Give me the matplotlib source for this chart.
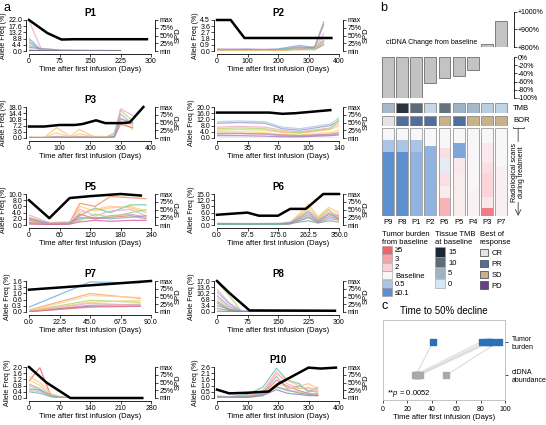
import numpy as np
import matplotlib
matplotlib.use('Agg')
import matplotlib.pyplot as plt
from matplotlib.colors import LinearSegmentedColormap, Normalize
from matplotlib.patches import Patch

plt.rcParams['font.family'] = ['Liberation Sans', 'DejaVu Sans']
plt.rcParams['mathtext.fontset'] = 'custom'
plt.rcParams['mathtext.it'] = 'Liberation Sans:italic'

# ---- panel a: allele frequency per patient (days, %) and SPD (fraction of max)
p1_t = [0, 30, 80, 150, 225]
p1_vaf = [[21.5, 1.5, 0.8, 0.5, 0.3], [9.0, 0.6, 0.2, 0.1, 0.1], [7.5, 0.5, 0.2, 0.1, 0.1],
          [6.0, 0.4, 0.2, 0.1, 0.1], [2.5, 1.8, 0.5, 0.3, 0.3], [4.0, 0.3, 0.1, 0.1, 0.1],
          [1.0, 0.2, 0.1, 0.1, 0.1], [0.3, 0.2, 0.1, 0.1, 0.1]]
p1_spd_t = [0, 45, 80, 110, 290]
p1_spd = [1.0, 0.58, 0.37, 0.38, 0.38]

p2_t = [0, 50, 100, 150, 200, 270, 320, 350]
p2_vaf = [[0.2, 0.3, 0.2, 0.25, 0.2, 0.6, 0.4, 3.8], [0.1, 0.2, 0.15, 0.2, 0.1, 0.4, 0.3, 2.5],
          [0.3, 0.2, 0.3, 0.2, 0.3, 0.8, 0.5, 1.5], [0.1, 0.1, 0.1, 0.1, 0.1, 0.3, 0.6, 4.2],
          [0.05, 0.05, 0.1, 0.05, 0.1, 0.2, 0.2, 0.9], [0.15, 0.1, 0.2, 0.1, 0.2, 0.5, 0.3, 1.2],
          [0.05, 0.1, 0.05, 0.1, 0.05, 0.3, 0.2, 2.0]]
p2_spd_t = [0, 45, 90, 375]
p2_spd = [1.0, 1.0, 0.42, 0.42]

p3_t = [0, 50, 90, 135, 165, 210, 255, 280, 300, 340]
p3_vaf = [[0.3, 0.3, 6.0, 1.0, 5.0, 1.0, 0.8, 2.0, 12.0, 7.0],
          [0.2, 0.2, 3.0, 0.5, 2.5, 0.8, 0.5, 1.5, 10.0, 5.0],
          [0.4, 0.3, 1.0, 0.6, 1.0, 0.7, 0.6, 3.0, 16.0, 10.0],
          [0.5, 0.4, 0.8, 0.5, 0.7, 0.5, 0.4, 1.0, 17.0, 13.0],
          [0.3, 0.2, 0.5, 0.3, 0.5, 0.3, 0.3, 1.0, 14.0, 8.0],
          [0.1, 0.1, 0.3, 0.2, 0.3, 0.2, 0.2, 0.5, 8.0, 6.0],
          [0.2, 0.1, 0.4, 0.2, 0.3, 0.2, 0.2, 0.8, 11.0, 9.0]]
p3_spd_t = [0, 50, 100, 150, 175, 220, 250, 300, 330, 375]
p3_spd = [0.37, 0.37, 0.42, 0.42, 0.45, 0.57, 0.48, 0.48, 0.5, 1.0]

p4_t = [0, 25, 55, 75, 95, 130, 140]
p4_vaf = [[10.5, 11.0, 10.5, 7.0, 6.0, 9.0, 13.0], [9.5, 10.0, 9.5, 6.0, 5.0, 8.0, 11.0],
          [7.0, 7.5, 7.0, 5.0, 4.0, 6.5, 9.5], [5.0, 5.5, 5.0, 3.5, 3.0, 5.5, 8.0],
          [4.0, 4.0, 3.5, 2.0, 2.0, 3.5, 5.0], [6.0, 6.5, 6.0, 4.0, 3.5, 6.0, 12.0],
          [3.0, 3.0, 2.5, 2.0, 1.5, 2.5, 3.5], [2.5, 2.8, 2.5, 1.5, 1.2, 2.0, 2.5],
          [0.3, 0.3, 0.3, 0.3, 0.3, 0.3, 0.3], [1.5, 1.5, 1.2, 0.8, 0.8, 1.5, 2.0]]
p4_spd_t = [0, 35, 60, 75, 90, 130]
p4_spd = [0.82, 0.82, 0.82, 0.78, 0.8, 0.9]

p5_t = [0, 40, 80, 100, 130, 160, 200, 230]
p5_vaf = [[1.5, 0.5, 0.8, 7.0, 6.0, 9.2, 8.8, 8.5], [1.0, 0.3, 0.5, 6.0, 4.5, 5.5, 6.0, 4.5],
          [2.0, 0.5, 0.5, 3.0, 5.5, 4.0, 6.5, 6.5], [3.2, 0.8, 1.0, 5.0, 3.0, 4.5, 5.0, 3.0],
          [2.5, 0.6, 0.7, 4.0, 5.0, 6.0, 5.5, 4.0], [1.5, 0.4, 0.6, 2.5, 2.0, 3.0, 3.5, 2.5],
          [0.8, 0.2, 0.4, 3.5, 2.0, 2.5, 3.0, 2.0], [2.2, 0.5, 0.6, 2.0, 2.5, 2.0, 2.5, 3.0],
          [0.5, 0.3, 0.4, 1.5, 3.5, 2.5, 4.0, 5.0], [0.3, 0.2, 0.3, 1.0, 1.5, 1.2, 1.5, 1.5]]
p5_spd_t = [0, 40, 80, 120, 180, 220]
p5_spd = [0.8, 0.22, 0.87, 0.93, 1.0, 0.95]

p6_t = [0, 87.5, 120, 175, 210, 262.5, 290, 320, 350]
p6_vaf = [[0.3, 0.3, 0.3, 0.3, 1.0, 10.0, 4.0, 8.5, 6.0], [0.2, 0.2, 0.2, 0.2, 0.8, 8.5, 3.5, 7.0, 5.0],
          [0.4, 0.3, 0.3, 0.4, 1.5, 7.0, 3.0, 7.5, 2.0], [0.3, 0.2, 0.3, 0.3, 1.2, 6.5, 2.5, 6.0, 4.0],
          [0.2, 0.2, 0.2, 0.2, 0.8, 6.0, 2.0, 5.5, 4.5], [0.5, 0.4, 0.4, 0.5, 1.0, 5.0, 2.0, 5.0, 3.5],
          [0.1, 0.1, 0.1, 0.1, 0.5, 4.0, 1.5, 4.0, 3.0], [0.2, 0.2, 0.2, 0.2, 0.6, 3.5, 1.0, 3.0, 2.5],
          [0.8, 0.7, 0.7, 0.8, 0.8, 2.0, 1.0, 2.0, 1.5]]
p6_spd_t = [0, 87.5, 120, 175, 210, 255, 305, 350]
p6_spd = [0.33, 0.4, 0.3, 0.3, 0.52, 0.52, 1.0, 1.0]

p7_t = [0, 45, 82]
p7_vaf = [[0.25, 1.55, 1.5], [0.1, 0.95, 0.7], [0.05, 0.85, 0.75], [0.05, 0.6, 0.5],
          [0.05, 0.5, 0.6], [0.02, 0.35, 0.4], [0.02, 0.3, 0.3], [0.02, 0.45, 0.35],
          [0.02, 0.25, 0.3]]
p7_spd_t = [0, 45, 90]
p7_spd = [0.72, 0.86, 1.0]

p8_t = [0, 30, 60, 100, 225]
p8_vaf = [[16.5, 9.0, 0.3, 0.2, 0.2], [12.5, 5.0, 0.5, 0.2, 0.1], [11.0, 4.5, 0.4, 0.1, 0.1],
          [9.0, 3.0, 0.3, 0.1, 0.1], [7.5, 2.0, 0.2, 0.1, 0.1], [6.0, 1.5, 0.2, 0.1, 0.1],
          [5.0, 1.0, 0.1, 0.1, 0.1], [3.5, 1.5, 0.5, 0.2, 0.1], [2.0, 0.8, 0.2, 0.1, 0.1],
          [0.5, 0.3, 0.2, 0.2, 0.2]]
p8_spd_t = [0, 30, 80, 290]
p8_spd = [1.0, 0.62, 0.05, 0.04]

p9_t = [0, 25, 50, 70, 95]
p9_vaf = [[1.1, 1.95, 0.15, 0.1, 0.0], [1.4, 1.0, 0.3, 0.05, 0.0], [1.2, 0.8, 0.2, 0.05, 0.0],
          [0.9, 0.6, 0.2, 0.05, 0.0], [0.8, 0.5, 0.15, 0.05, 0.0], [0.6, 0.5, 0.1, 0.05, 0.0],
          [0.5, 0.4, 0.1, 0.0, 0.0], [0.4, 0.3, 0.1, 0.0, 0.0]]
p9_spd_t = [0, 40, 95, 260]
p9_spd = [1.0, 0.5, 0.0, 0.0]

p10_t = [0, 40, 100, 150, 195, 230, 270, 300, 330]
p10_vaf = [[0.1, 0.1, 0.3, 0.9, 2.5, 1.5, 1.2, 0.5, 0.9], [0.2, 0.1, 0.2, 0.6, 2.2, 1.2, 0.8, 0.8, 0.6],
           [0.1, 0.1, 0.2, 0.5, 2.0, 1.5, 1.0, 1.2, 0.8], [0.1, 0.0, 0.1, 0.4, 1.8, 0.8, 1.0, 0.6, 0.5],
           [0.05, 0.05, 0.1, 0.3, 1.5, 1.0, 0.6, 0.4, 0.3], [0.05, 0.05, 0.1, 0.3, 1.2, 0.9, 0.8, 0.9, 0.7],
           [0.0, 0.0, 0.05, 0.2, 1.0, 0.6, 0.5, 0.3, 0.4], [0.1, 0.1, 0.15, 0.3, 0.9, 0.7, 0.4, 0.3, 0.2],
           [0.0, 0.0, 0.05, 0.2, 0.7, 0.4, 0.3, 0.2, 0.2]]
p10_spd_t = [0, 40, 100, 170, 200, 300, 340, 390]
p10_spd = [0.27, 0.15, 0.17, 0.21, 0.45, 0.98, 0.95, 0.98]

x_max = [300, 400, 400, 140, 240, 350, 90, 300, 280, 400]
y_max = [22.0, 4.5, 18.0, 20.0, 10.0, 15.0, 1.6, 17.0, 2.0, 2.6]

# ---- panel b
order = ['P9', 'P8', 'P1', 'P2', 'P6', 'P5', 'P4', 'P3', 'P7']
ctdna_change = [-100, -100, -100, -64, -52, -46, -32, 820, 950]
tmb = [4.5, 14, 10, 1.5, 9.5, 5, 4.5, 2.5, 2]
bor = ['CR', 'PR', 'PR', 'PR', 'SD', 'PR', 'SD', 'SD', 'SD']
# tumor burden vs baseline for each scan, top to bottom, with share of treatment time
scan_vals = [[1.0, 0.5, 0.1], [1.0, 0.5, 0.1], [1.0, 0.5, 0.3], [1.0, 0.3],
             [1.0, 1.5, 0.85, 1.5, 1.2, 2.6], [1.0, 0.2, 1.3, 1.2], [1.0, 1.08],
             [1.0, 1.25, 1.5, 1.8, 1.3, 4.0], [1.0, 1.15]]
scan_share = [[0.14, 0.13, 0.73], [0.14, 0.13, 0.73], [0.14, 0.13, 0.73], [0.21, 0.79],
              [0.23, 0.11, 0.17, 0.15, 0.13, 0.21], [0.17, 0.17, 0.17, 0.49], [0.7, 0.3],
              [0.17, 0.23, 0.11, 0.27, 0.13, 0.09], [0.44, 0.56]]
tb_levels = [5, 3, 2, 1, 0.5, 0.1]
tb_labels = ['≥5', '3', '2', 'Baseline', '0.5', '≤0.1']
tmb_levels = [15, 10, 5, 0]
bor_names = ['CR', 'PR', 'SD', 'PD']

# ---- panel c
tumor_days = [41, 81, 85, 87, 89, 95]
ctdna_days = [27, 26, 28, 29, 30, 52]

p_colors = {
    'P1': ['#f4a6c6', '#66c2a5', '#8fd0b0', '#8da0cb', '#999999', '#b3a2d4', '#fdc086', '#4a5a8a'],
    'P2': ['#b3a2d4', '#f4a6c6', '#8da0cb', '#999999', '#e8786a', '#66c2a5', '#fdc086'],
    'P3': ['#fdc086', '#f7d26b', '#a6d96a', '#f4a6c6', '#b3a2d4', '#e8786a', '#8da0cb'],
    'P4': ['#b3c7e6', '#8da0cb', '#f4a6c6', '#fdc086', '#f7d26b', '#a6d96a', '#e8786a',
           '#b3a2d4', '#1b7f6a', '#9e7cc1'],
    'P5': ['#f08a5d', '#f7d26b', '#66c2a5', '#f4a6c6', '#fdc086', '#b3a2d4', '#e8786a',
           '#8da0cb', '#a6d96a', '#d95f9e'],
    'P6': ['#fdc086', '#f7d26b', '#a6d96a', '#f4a6c6', '#b3a2d4', '#8da0cb', '#e8786a',
           '#66c2a5', '#999999'],
    'P7': ['#6baed6', '#f5a35c', '#fdd0a2', '#a6d96a', '#f7d26b', '#b3a2d4', '#9e7cc1',
           '#f4a6c6', '#e8786a'],
    'P8': ['#a6d96a', '#f4a6c6', '#b3a2d4', '#8da0cb', '#fdc086', '#66c2a5', '#e8786a',
           '#6baed6', '#999999', '#7a9a3a'],
    'P9': ['#f0626e', '#fdc086', '#f7d26b', '#b3a2d4', '#a6d96a', '#8da0cb', '#f4a6c6', '#66c2a5'],
    'P10': ['#66c2a5', '#f4a6c6', '#fdc086', '#b3a2d4', '#e8786a', '#f7d26b', '#a6d96a',
            '#8da0cb', '#9e7cc1'],
}

W, H = 546, 425
fig = plt.figure(figsize=(W / 100, H / 100), dpi=100)


def box(l, t, w, h):
    return [l / W, 1 - (t + h) / H, w / W, h / H]


def vaf_panel(rect, name, t, vaf, spd_t, spd, xmax, ymax):
    ax = fig.add_axes(rect)
    for v, c in zip(vaf, p_colors[name]):
        ax.plot(t, v, color=c, lw=0.9, alpha=0.8)
    ax.set_xlim(0, xmax)
    ax.set_ylim(0, ymax)
    ax.set_yticks(np.linspace(0, ymax, 6))
    ax.yaxis.set_major_formatter('{x:.1f}')
    xt = np.linspace(0, xmax, 5)
    ax.set_xticks(xt)
    if np.all(xt == np.round(xt)):
        ax.set_xticklabels([f'{v:.0f}' for v in xt])
    else:
        ax.set_xticklabels([f'{v:.1f}' for v in xt])
    for s in ['top', 'right']:
        ax.spines[s].set_visible(False)
    ax.spines['left'].set_position(('outward', 2))
    ax.spines['bottom'].set_position(('outward', 2))
    for s in ['left', 'bottom']:
        ax.spines[s].set_linewidth(0.6)
    ax.tick_params(labelsize=5, length=2, width=0.5, pad=1)
    ax.set_title(name, fontsize=7, fontweight='bold', pad=3)
    ax.set_xlabel('Time after first infusion (Days)', fontsize=5.5, labelpad=1)
    ax.set_ylabel('Allele Freq (%)', fontsize=5, labelpad=1)

    tw = ax.twinx()
    tw.plot(spd_t, spd, color='black', lw=1.8, clip_on=False, zorder=5)
    tw.set_ylim(0, 1)
    tw.set_yticks([0, 0.25, 0.5, 0.75, 1])
    tw.set_yticklabels(['min', '25%', '50%', '75%', 'max'])
    for s in ['top', 'left', 'bottom']:
        tw.spines[s].set_visible(False)
    tw.spines['right'].set_position(('outward', 3))
    tw.spines['right'].set_linewidth(0.6)
    tw.tick_params(labelsize=5, length=2, width=0.5, pad=1)
    tw.set_ylabel('SPD', fontsize=5.5, labelpad=1)


panels = [('P1', p1_t, p1_vaf, p1_spd_t, p1_spd), ('P2', p2_t, p2_vaf, p2_spd_t, p2_spd),
          ('P3', p3_t, p3_vaf, p3_spd_t, p3_spd), ('P4', p4_t, p4_vaf, p4_spd_t, p4_spd),
          ('P5', p5_t, p5_vaf, p5_spd_t, p5_spd), ('P6', p6_t, p6_vaf, p6_spd_t, p6_spd),
          ('P7', p7_t, p7_vaf, p7_spd_t, p7_spd), ('P8', p8_t, p8_vaf, p8_spd_t, p8_spd),
          ('P9', p9_t, p9_vaf, p9_spd_t, p9_spd), ('P10', p10_t, p10_vaf, p10_spd_t, p10_spd)]
col_left = [29, 217]
row_top = [20, 107, 194, 281, 367]
for i, (name, t, vaf, st, sv) in enumerate(panels):
    r, c = divmod(i, 2)
    vaf_panel(box(col_left[c], row_top[r], 122, 31), name, t, vaf, st, sv, x_max[i], y_max[i])

# ---- panel b
x = np.arange(len(order))
bar_kw = dict(width=0.85, color='#c3c3c3', edgecolor='#6e6e6e', linewidth=0.6)


def right_axis(ax):
    for s in ['top', 'left', 'bottom']:
        ax.spines[s].set_visible(False)
    ax.spines['right'].set_position(('outward', 4))
    ax.spines['right'].set_linewidth(0.6)
    ax.yaxis.tick_right()
    ax.set_xticks([])
    ax.tick_params(labelsize=5, length=2, width=0.5, pad=1)
    ax.set_xlim(-0.5, len(order) - 0.5)


ax_up = fig.add_axes(box(381, 12, 127, 35))
up = np.array(ctdna_change, dtype=float)
ax_up.bar(x[up > 0], up[up > 0] - 800, bottom=800, **bar_kw)
ax_up.set_ylim(800, 1000)
ax_up.set_yticks([800, 900, 1000])
ax_up.set_yticklabels(['+800%', '+900%', '+1000%'])
right_axis(ax_up)
ax_up.text(3.1, 808, 'ctDNA Change from baseline', fontsize=5, ha='center', va='bottom')

ax_dn = fig.add_axes(box(381, 57, 127, 41))
ax_dn.bar(x[up < 0], up[up < 0], **bar_kw)
ax_dn.set_ylim(-100, 0)
ax_dn.set_yticks([0, -20, -40, -60, -80, -100])
ax_dn.set_yticklabels(['0%', '-20%', '-40%', '-60%', '-80%', '-100%'])
right_axis(ax_dn)

tmb_cmap = LinearSegmentedColormap.from_list('tmb', ['#d6e8f5', '#9fb3c6', '#5f6b78', '#1b2635'])
tmb_norm = Normalize(0, 15)
bor_colors = {'CR': '#e4e4e4', 'PR': '#4f6f9f', 'SD': '#c9b28a', 'PD': '#6a3d8e'}
tb_cmap = LinearSegmentedColormap.from_list(
    'tb', [(0, '#5b8fd0'), (0.41, '#a9c4e6'), (0.588, '#f8f6f8'), (0.765, '#fbd0d4'),
           (0.869, '#f7a3aa'), (1.0, '#f0626e')])
tb_norm = Normalize(-1, 0.7)


def tb_color(v):
    return tb_cmap(tb_norm(np.log10(np.clip(v, 0.1, 5))))


ax_tmb = fig.add_axes(box(381, 103, 127, 10))
ax_tmb.bar(x, 1, width=0.85, color=[tmb_cmap(tmb_norm(v)) for v in tmb],
           edgecolor='#8a8a8a', linewidth=0.6)
ax_bor = fig.add_axes(box(381, 116, 127, 10))
ax_bor.bar(x, 1, width=0.85, color=[bor_colors[b] for b in bor],
           edgecolor='#8a8a8a', linewidth=0.6)
for ax, lab in [(ax_tmb, 'TMB'), (ax_bor, 'BOR')]:
    ax.set_xlim(-0.5, len(order) - 0.5)
    ax.set_ylim(0, 1)
    ax.axis('off')
    ax.text(1.04, 0.5, lab, transform=ax.transAxes, fontsize=5.5, va='center')

ax_scan = fig.add_axes(box(381, 128, 127, 88))
for i in range(len(order)):
    start = 0
    for v, s in zip(scan_vals[i], scan_share[i]):
        ax_scan.bar(i, s, bottom=start, width=0.85, color=tb_color(v), linewidth=0)
        start += s
    ax_scan.bar(i, 1, bottom=0, width=0.85, fill=False, edgecolor='#9a9a9a', linewidth=0.6)
ax_scan.set_xlim(-0.5, len(order) - 0.5)
ax_scan.set_ylim(1, 0)
ax_scan.set_yticks([])
ax_scan.set_xticks(x)
ax_scan.set_xticklabels(order, fontsize=5.5)
ax_scan.tick_params(length=0, pad=2)
for s in ax_scan.spines.values():
    s.set_visible(False)
ax_scan.annotate('', xy=(1.08, 0), xytext=(1.08, 1), xycoords='axes fraction',
                 arrowprops=dict(arrowstyle=']->,widthA=0.4,lengthA=0.1', lw=0.6,
                                 color='#444444', shrinkA=0, shrinkB=0))
ax_scan.text(1.08, 0.5, 'Radiological scans\nduring treatment', transform=ax_scan.transAxes,
             rotation=90, fontsize=5, ha='center', va='center', linespacing=0.9,
             bbox=dict(fc='white', ec='none', pad=0.5))

leg_kw = dict(loc='upper left', frameon=False, fontsize=5.5, title_fontsize=5.5,
              alignment='left', borderpad=0, borderaxespad=0, handletextpad=0.4)
fig.legend([Patch(fc=tb_color(v), ec='#999999', lw=0.4) for v in tb_levels], tb_labels,
           bbox_to_anchor=(382 / W, 1 - 231 / H), title='Tumor burden\nfrom baseline',
           handlelength=1.3, handleheight=1.2, labelspacing=0, **leg_kw)
fig.legend([Patch(fc=tmb_cmap(tmb_norm(v)), ec='#999999', lw=0.4) for v in tmb_levels],
           [str(v) for v in tmb_levels], bbox_to_anchor=(435 / W, 1 - 231 / H),
           title='Tissue TMB\nat baseline', handlelength=1.3, handleheight=1.6,
           labelspacing=0.1, **leg_kw)
fig.legend([Patch(fc=bor_colors[b], ec='#555555', lw=0.6) for b in bor_names], bor_names,
           bbox_to_anchor=(480 / W, 1 - 231 / H), title='Best of\nresponse',
           handlelength=1.1, handleheight=1.1, labelspacing=0.35, **leg_kw)

# ---- panel c
ax_c = fig.add_axes(box(383, 320, 122, 80))
for tb, ct in zip(tumor_days, ctdna_days):
    ax_c.plot([ct, tb], [0, 1], color='#dcdcdc', lw=0.8, zorder=1)
ax_c.scatter(tumor_days, [1] * len(tumor_days), marker='s', s=14, color='#2a72b5', zorder=3)
ax_c.scatter(ctdna_days, [0] * len(ctdna_days), marker='s', s=14, color='#a9a9a9', zorder=3)
ax_c.set_xlim(0, 100)
ax_c.set_ylim(-0.74, 1.64)
ax_c.set_xticks(range(0, 101, 20))
ax_c.set_yticks([0, 1])
ax_c.set_yticklabels(['ctDNA\nabundance', 'Tumor\nburden'], ha='left')
ax_c.yaxis.tick_right()
ax_c.tick_params(labelsize=5, length=2, width=0.5, pad=2)
ax_c.tick_params(axis='y', pad=3)
for s in ax_c.spines.values():
    s.set_color('#bbbbbb')
    s.set_linewidth(0.6)
ax_c.set_title('Time to 50% decline', fontsize=7, pad=4)
ax_c.set_xlabel('Time after first infusion (Days)', fontsize=5.5, labelpad=1)
ax_c.text(0.03, 0.06, r'**$p$ = 0.0052', transform=ax_c.transAxes, fontsize=5.5)

fig.text(4 / W, 1 - 2 / H, 'a', fontsize=9, va='top')
fig.text(380 / W, 1 - 2 / H, 'b', fontsize=9, va='top')
fig.text(382 / W, 1 - 300 / H, 'c', fontsize=9, va='top')

fig.savefig('out.png', dpi=100)
